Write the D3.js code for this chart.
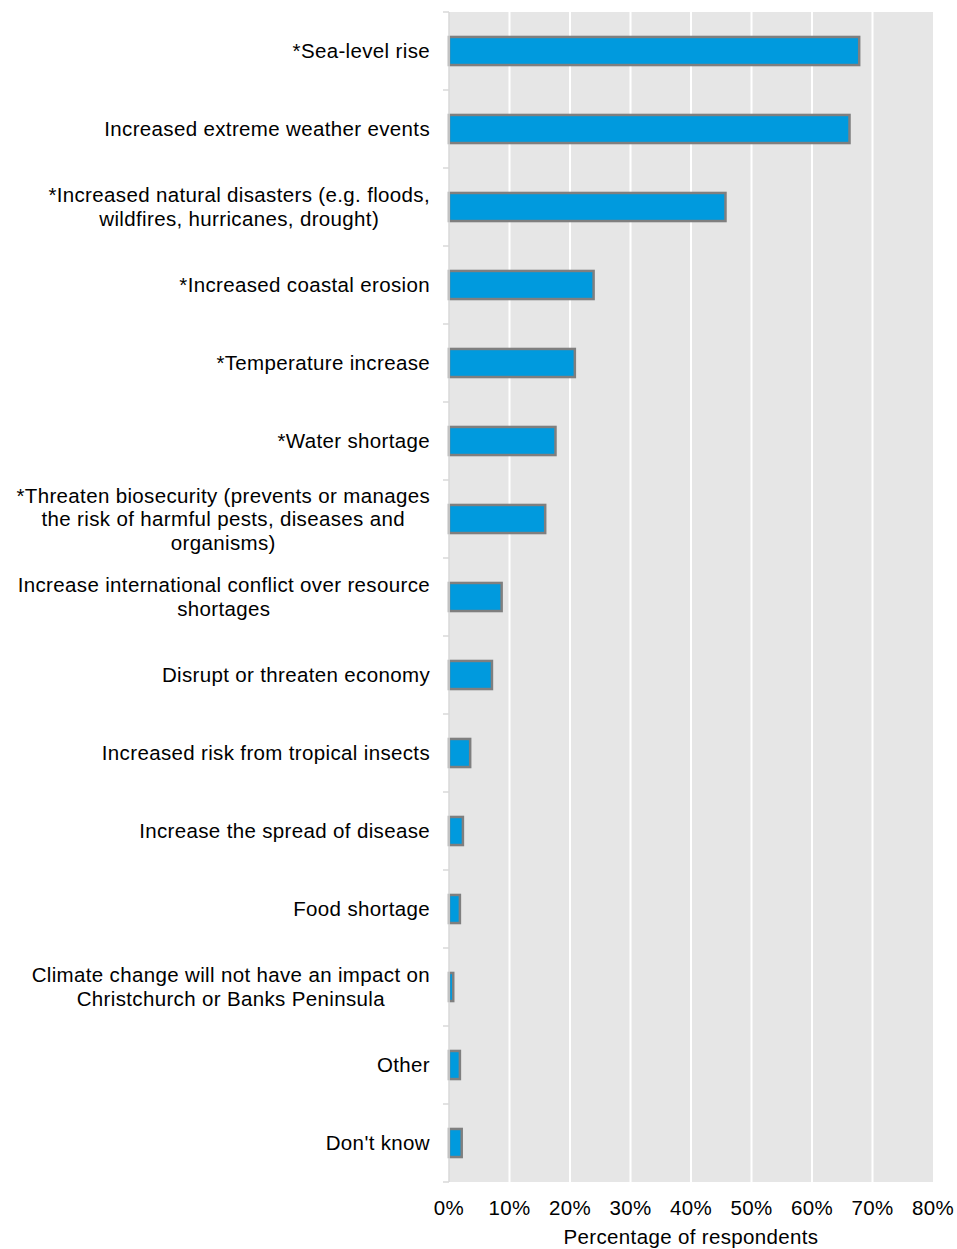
<!DOCTYPE html>
<html>
<head>
<meta charset="utf-8">
<script src="https://cdn.jsdelivr.net/npm/d3@7"></script>
<style>
  body { margin: 0; background: #fff; }
  svg { display: block; font-family: "Liberation Sans", Arial, sans-serif; }
  svg text { letter-spacing: 0.35px; }
</style>
</head>
<body>
<svg id="chart" width="957" height="1249"></svg>
<script>
// DATA
const categories = [
  "*Sea-level rise",
  "Increased extreme weather events",
  "*Increased natural disasters (e.g. floods, wildfires, hurricanes, drought)",
  "*Increased coastal erosion",
  "*Temperature increase",
  "*Water shortage",
  "*Threaten biosecurity (prevents or manages the risk of harmful pests, diseases and organisms)",
  "Increase international conflict over resource shortages",
  "Disrupt or threaten economy",
  "Increased risk from tropical insects",
  "Increase the spread of disease",
  "Food shortage",
  "Climate change will not have an impact on Christchurch or Banks Peninsula",
  "Other",
  "Don't know"
];
const values = [67.8, 66.2, 45.7, 23.9, 20.8, 17.6, 15.9, 8.7, 7.1, 3.5, 2.3, 1.8, 0.7, 1.8, 2.1];
const xTicks = [0, 10, 20, 30, 40, 50, 60, 70, 80];
const xTitle = "Percentage of respondents";

// SETUP
const svg = d3.select("#chart");
const margin = { top: 12, left: 449, right: 24, bottom: 67 };
const width = 957 - margin.left - margin.right;
const height = 1249 - margin.top - margin.bottom;

const x = d3.scaleLinear().domain([0, 80]).range([0, width]);
const y = d3.scaleBand().domain(categories).range([0, height]).paddingInner(0.64).paddingOuter(0.32);

const g = svg.append("g").attr("transform", "translate(" + margin.left + "," + margin.top + ")");

// plot background
g.append("rect")
  .attr("x", 0).attr("y", 0)
  .attr("width", width).attr("height", height)
  .attr("fill", "#e6e6e6");

// gridlines
g.selectAll(".grid")
  .data(xTicks.filter(d => d > 0 && d < 80))
  .enter().append("line")
  .attr("class", "grid")
  .attr("x1", d => x(d)).attr("x2", d => x(d))
  .attr("y1", 0).attr("y2", height)
  .attr("stroke", "#ffffff")
  .attr("stroke-width", 2);

// bars
g.selectAll(".bar")
  .data(values)
  .enter().append("rect")
  .attr("class", "bar")
  .attr("x", 0)
  .attr("y", (d, i) => y(categories[i]))
  .attr("width", d => x(d))
  .attr("height", y.bandwidth())
  .attr("fill", "#009ade")
  .attr("stroke", "#7f7f7f")
  .attr("stroke-width", 2.5);

// left axis line + ticks at band boundaries
g.append("line")
  .attr("x1", 0).attr("x2", 0)
  .attr("y1", 0).attr("y2", height)
  .attr("stroke", "#d9d9d9")
  .attr("stroke-width", 1.5);

const step = y.step();
g.selectAll(".ytick")
  .data(d3.range(categories.length + 1))
  .enter().append("line")
  .attr("class", "ytick")
  .attr("x1", -6).attr("x2", 0)
  .attr("y1", i => i * step).attr("y2", i => i * step)
  .attr("stroke", "#d9d9d9")
  .attr("stroke-width", 1.5);

// category labels, wrapped and centred on their own block
const fontSize = 20.5;
const lineH = 23.5;
const maxW = 420;

function wrapWords(text, el) {
  const words = text.split(" ");
  const lines = [];
  let cur = "";
  words.forEach(w => {
    const test = cur ? cur + " " + w : w;
    el.text(test);
    if (el.node().getComputedTextLength() > maxW && cur) {
      lines.push(cur);
      cur = w;
    } else {
      cur = test;
    }
  });
  lines.push(cur);
  return lines;
}

categories.forEach((c, i) => {
  const t = g.append("text")
    .attr("font-size", fontSize)
    .attr("fill", "#000");
  const lines = wrapWords(c, t);
  let wMax = 0;
  lines.forEach(l => {
    t.text(l);
    wMax = Math.max(wMax, t.node().getComputedTextLength());
  });
  t.text(null);
  const cx = -19 - wMax / 2;
  const cy = y(c) + y.bandwidth() / 2;
  const y0 = cy - (lines.length - 1) * lineH / 2;
  t.attr("text-anchor", "middle");
  lines.forEach((l, k) => {
    t.append("tspan")
      .attr("x", cx)
      .attr("y", y0 + k * lineH)
      .attr("dy", "0.35em")
      .text(l);
  });
});

// x tick labels
g.selectAll(".xlabel")
  .data(xTicks)
  .enter().append("text")
  .attr("class", "xlabel")
  .attr("x", d => x(d))
  .attr("y", height + 33)
  .attr("text-anchor", "middle")
  .attr("font-size", fontSize)
  .attr("fill", "#000")
  .text(d => d + "%");

// x title
g.append("text")
  .attr("x", width / 2)
  .attr("y", height + 62)
  .attr("text-anchor", "middle")
  .attr("font-size", fontSize)
  .attr("fill", "#000")
  .text(xTitle);
</script>
</body>
</html>
